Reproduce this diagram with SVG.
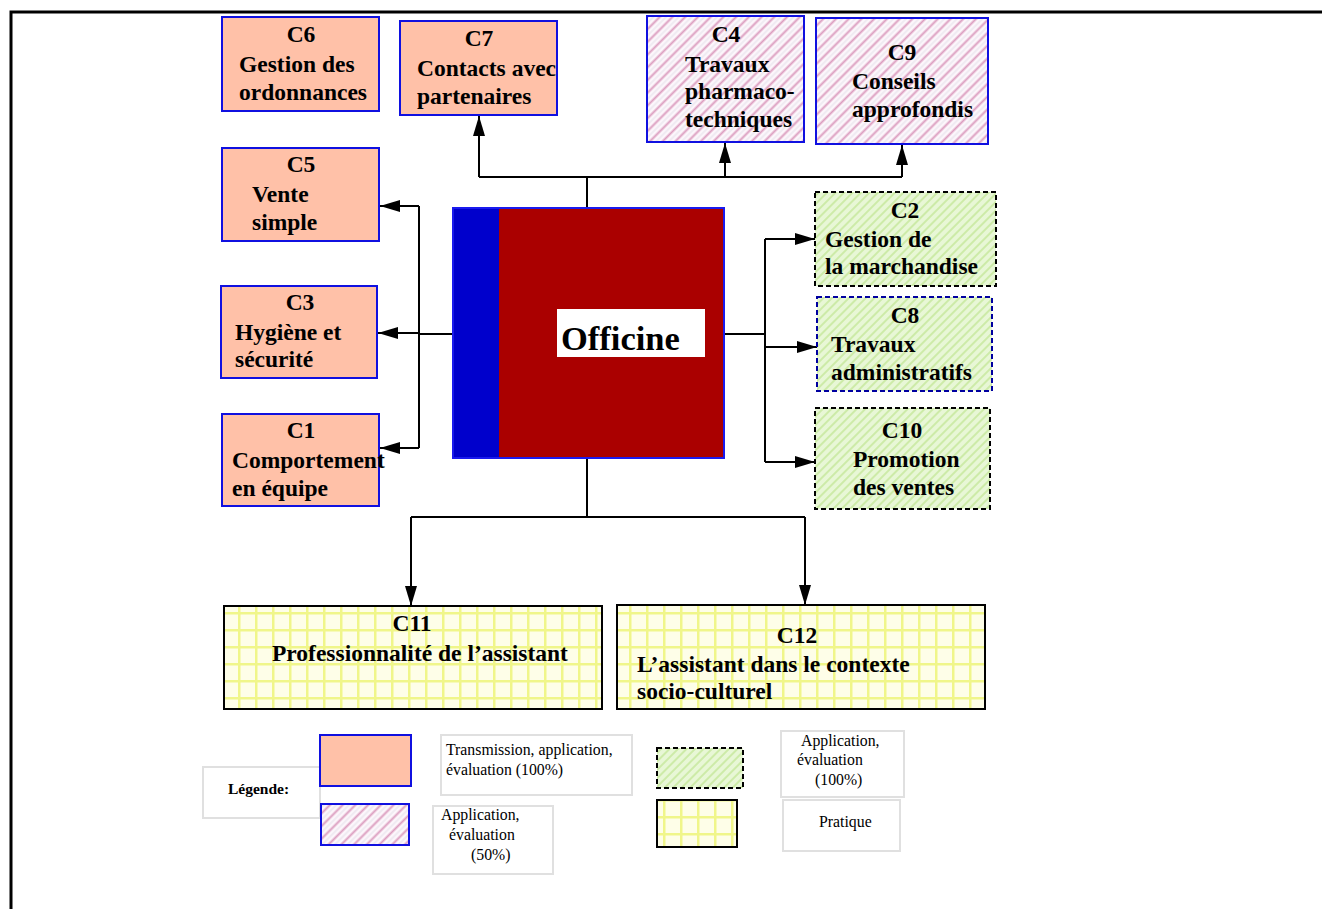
<svg xmlns="http://www.w3.org/2000/svg" width="1322" height="909" viewBox="0 0 1322 909">
<style>
.t{font-family:"Liberation Serif","Times New Roman",serif;font-weight:bold;font-size:23.5px;fill:#000}
.c{text-anchor:middle}
.lg{font-family:"Liberation Serif","Times New Roman",serif;font-size:15.8px;fill:#000}
.salmon{fill:#ffc1a8;stroke:#1010e0;stroke-width:2}
.pink{fill:url(#pinkHatch);stroke:#1010e0;stroke-width:2}
.green{fill:url(#greenHatch);stroke:#000;stroke-width:2;stroke-dasharray:5 3}
.greenb{fill:url(#greenHatch);stroke:#0000a0;stroke-width:2;stroke-dasharray:5 3}
.grid{fill:url(#yellowGrid);stroke:#000;stroke-width:2}
.lbox{fill:#fff;stroke:#e0e0e0;stroke-width:2}
.conn{fill:none;stroke:#000;stroke-width:2}
</style>
<defs>
<pattern id="pinkHatch" patternUnits="userSpaceOnUse" width="9" height="9" patternTransform="rotate(45)">
<rect width="9" height="9" fill="#fcf6fb"/>
<line x1="1.5" y1="0" x2="1.5" y2="9" stroke="#dc9ec0" stroke-width="2"/>
<line x1="6" y1="0" x2="6" y2="9" stroke="#e4e0ea" stroke-width="1"/>
</pattern>
<pattern id="greenHatch" patternUnits="userSpaceOnUse" width="6" height="6" patternTransform="rotate(45)">
<rect width="6" height="6" fill="#e8f7d6"/>
<line x1="1" y1="0" x2="1" y2="6" stroke="#cdeba8" stroke-width="2"/>
</pattern>
<pattern id="yellowGrid" patternUnits="userSpaceOnUse" width="17" height="17">
<rect width="17" height="17" fill="#fefee8"/>
<line x1="0" y1="1" x2="17" y2="1" stroke="#f0f68a" stroke-width="3"/>
<line x1="1" y1="0" x2="1" y2="17" stroke="#f0f68a" stroke-width="3"/>
</pattern>
<marker id="arr" viewBox="0 0 20 12" refX="20" refY="6" markerWidth="20" markerHeight="12" markerUnits="userSpaceOnUse" orient="auto">
<path d="M0,0 L20,6 L0,12 z" fill="#000"/>
</marker>
<clipPath id="clipC7"><rect x="400" y="21" width="158" height="95"/></clipPath>
</defs>

<rect width="1322" height="909" fill="#fff"/>
<path d="M11,909 V12 H1322" fill="none" stroke="#000" stroke-width="3"/>

<g id="connectors">
<path class="conn" d="M587,208 V177"/>
<path class="conn" d="M479,177 H902"/>
<path class="conn" d="M479,177 V116" marker-end="url(#arr)"/>
<path class="conn" d="M725,177 V143" marker-end="url(#arr)"/>
<path class="conn" d="M902,177 V145" marker-end="url(#arr)"/>
<path class="conn" d="M453,334 H419"/>
<path class="conn" d="M419,206 V448"/>
<path class="conn" d="M419,206 H380" marker-end="url(#arr)"/>
<path class="conn" d="M419,333 H378" marker-end="url(#arr)"/>
<path class="conn" d="M419,448 H380" marker-end="url(#arr)"/>
<path class="conn" d="M724,334 H765"/>
<path class="conn" d="M765,239 V462"/>
<path class="conn" d="M765,239 H815" marker-end="url(#arr)"/>
<path class="conn" d="M765,347 H817" marker-end="url(#arr)"/>
<path class="conn" d="M765,462 H815" marker-end="url(#arr)"/>
<path class="conn" d="M587,458 V517"/>
<path class="conn" d="M411,517 H805"/>
<path class="conn" d="M411,517 V606" marker-end="url(#arr)"/>
<path class="conn" d="M805,517 V605" marker-end="url(#arr)"/>
</g>

<g id="C6">
<rect class="salmon" x="222" y="17" width="157" height="94"/>
<text class="t c" x="301" y="42">C6</text>
<text class="t" x="239" y="72">Gestion des</text>
<text class="t" x="239" y="100">ordonnances</text>
</g>
<g id="C7">
<rect class="salmon" x="400" y="21" width="157" height="94"/>
<text class="t c" x="479" y="46">C7</text>
<g clip-path="url(#clipC7)"><text class="t" x="417" y="76">Contacts avec</text></g>
<text class="t" x="417" y="104">partenaires</text>
</g>
<g id="C4">
<rect class="pink" x="647" y="16" width="157" height="126"/>
<text class="t c" x="726" y="42">C4</text>
<text class="t" x="685" y="72">Travaux</text>
<text class="t" x="685" y="99">pharmaco-</text>
<text class="t" x="685" y="127">techniques</text>
</g>
<g id="C9">
<rect class="pink" x="816" y="18" width="172" height="126"/>
<text class="t c" x="902" y="60">C9</text>
<text class="t" x="852" y="89">Conseils</text>
<text class="t" x="852" y="117">approfondis</text>
</g>
<g id="C5">
<rect class="salmon" x="222" y="148" width="157" height="93"/>
<text class="t c" x="301" y="172">C5</text>
<text class="t" x="252" y="202">Vente</text>
<text class="t" x="252" y="230">simple</text>
</g>
<g id="C3">
<rect class="salmon" x="221" y="286" width="156" height="92"/>
<text class="t c" x="300" y="310">C3</text>
<text class="t" x="235" y="340">Hygiène et</text>
<text class="t" x="235" y="367">sécurité</text>
</g>
<g id="C1">
<rect class="salmon" x="222" y="414" width="157" height="92"/>
<text class="t c" x="301" y="438">C1</text>
<text class="t" x="232" y="468">Comportement</text>
<text class="t" x="232" y="496">en équipe</text>
</g>
<g id="Officine">
<rect x="453" y="208" width="271" height="250" fill="#0000cc" stroke="#1a1aee" stroke-width="2"/>
<rect x="499" y="209" width="224" height="248" fill="#aa0000"/>
<rect x="557" y="309" width="148" height="48" fill="#fff"/>
<text x="561" y="350" style="font-family:'Liberation Serif','Times New Roman',serif;font-weight:bold;font-size:34.5px">Officine</text>
</g>
<g id="C2">
<rect class="green" x="815" y="192" width="181" height="94"/>
<text class="t c" x="905" y="218">C2</text>
<text class="t" x="825" y="247">Gestion de</text>
<text class="t" x="825" y="274">la marchandise</text>
</g>
<g id="C8">
<rect class="greenb" x="817" y="297" width="175" height="94"/>
<text class="t c" x="905" y="323">C8</text>
<text class="t" x="831" y="352">Travaux</text>
<text class="t" x="831" y="380">administratifs</text>
</g>
<g id="C10">
<rect class="green" x="815" y="408" width="175" height="101"/>
<text class="t c" x="902" y="438">C10</text>
<text class="t" x="853" y="467">Promotion</text>
<text class="t" x="853" y="495">des ventes</text>
</g>
<g id="C11">
<rect class="grid" x="224" y="606" width="378" height="103"/>
<text class="t c" x="412" y="631">C11</text>
<text class="t" x="272" y="661">Professionnalité de l’assistant</text>
</g>
<g id="C12">
<rect class="grid" x="617" y="605" width="368" height="104"/>
<text class="t c" x="797" y="643">C12</text>
<text class="t" x="637" y="672">L’assistant dans le contexte</text>
<text class="t" x="637" y="699">socio-culturel</text>
</g>

<g id="legend">
<rect class="lbox" x="203" y="767" width="117" height="51"/>
<text x="228" y="794" style="font-family:'Liberation Serif','Times New Roman',serif;font-weight:bold;font-size:15.5px">Légende:</text>
<rect class="salmon" x="320" y="735" width="91" height="51"/>
<rect class="pink" x="321" y="804" width="88" height="41"/>
<rect class="lbox" x="441" y="735" width="191" height="60"/>
<text class="lg" x="446" y="755">Transmission, application,</text>
<text class="lg" x="446" y="775">évaluation (100%)</text>
<rect class="lbox" x="433" y="806" width="120" height="68"/>
<text class="lg" x="441" y="820">Application,</text>
<text class="lg" x="449" y="840">évaluation</text>
<text class="lg" x="471" y="860">(50%)</text>
<rect class="green" x="657" y="748" width="86" height="40"/>
<rect class="grid" x="657" y="800" width="80" height="47"/>
<rect class="lbox" x="781" y="731" width="123" height="66"/>
<text class="lg" x="801" y="746">Application,</text>
<text class="lg" x="797" y="765">évaluation</text>
<text class="lg" x="815" y="785">(100%)</text>
<rect class="lbox" x="783" y="800" width="117" height="51"/>
<text class="lg" x="819" y="827">Pratique</text>
</g>
</svg>
